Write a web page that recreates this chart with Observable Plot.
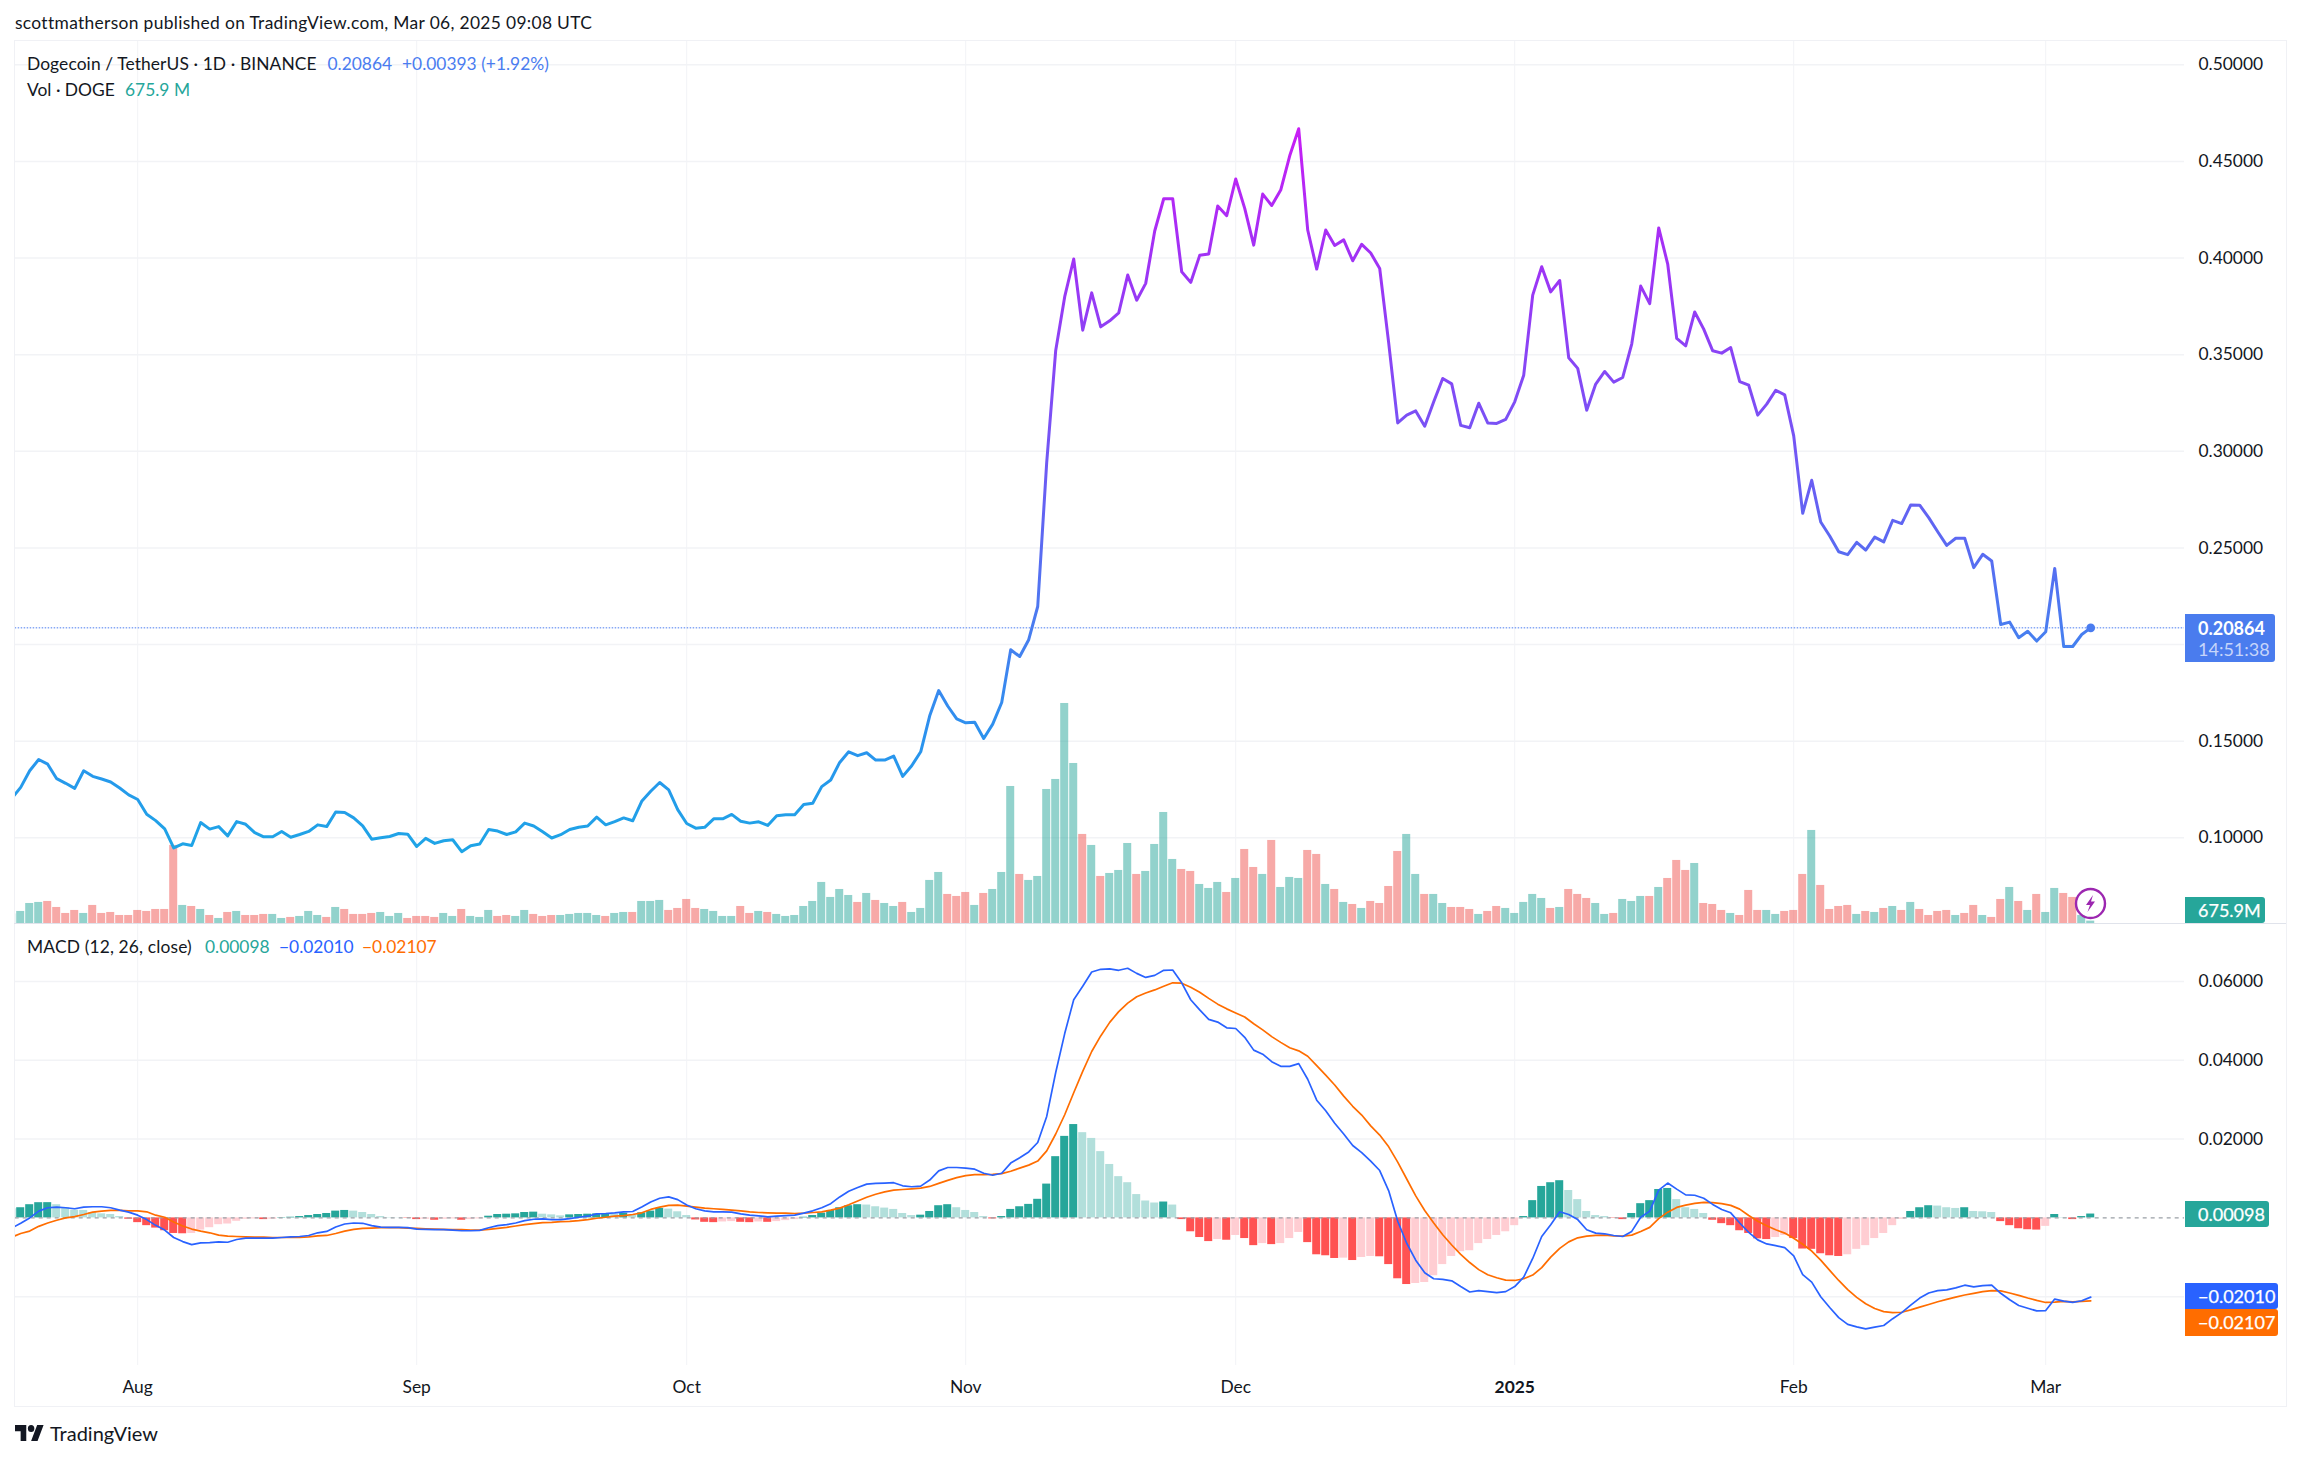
<!DOCTYPE html>
<html>
<head>
<meta charset="utf-8">
<script src="https://cdn.jsdelivr.net/npm/d3@7"></script>
<script src="https://cdn.jsdelivr.net/npm/@observablehq/plot@0.6"></script>
<style>
html,body{margin:0;padding:0;background:#fff;}
#stage{position:relative;width:2301px;height:1460px;overflow:hidden;font-family:Lato,sans-serif;color:#131722;}
.t{position:absolute;white-space:nowrap;font-size:17.4px;line-height:24px;height:24px;}
.box{position:absolute;left:2185px;color:#fff;border-radius:0 3px 3px 0;}
.box span{position:absolute;left:13px;white-space:nowrap;font-size:18px;line-height:20px;-webkit-text-stroke:0.25px #fff;}
</style>
</head>
<body>
<div id="stage"></div>
<script>
// Daily values from 18 Jul 2024 to 6 Mar 2025, grouped by month
const closes = [
 .1203,.1261,.1347,.1405,.1381,.1306,.1282,.1256,.1347,.1318,.1304,.1289,.1258,.1222,
 .1198,.1122,.1089,.1046,.0948,.0969,.0960,.1079,.1045,.1058,.1010,.1084,.1070,.1027,.1005,.1005,.1033,.1003,.1017,.1033,.1067,.1058,.1134,.1131,.1103,.1062,.0993,.1000,.1007,.1022,.1019,
 .0955,.0997,.0971,.0985,.0990,.0928,.0959,.0968,.1043,.1035,.1017,.1031,.1076,.1061,.1031,.0999,.1016,.1043,.1055,.1061,.1107,.1067,.1084,.1103,.1088,.1189,.1241,.1286,.1248,.1146,
 .1074,.1050,.1054,.1098,.1098,.1121,.1086,.1076,.1083,.1064,.1114,.1119,.1119,.1172,.1179,.1265,.1299,.1390,.1445,.1425,.1440,.1402,.1402,.1423,.1318,.1373,.1445,.1631,.1762,.1682,.1615,
 .1595,.1598,.1514,.1588,.1700,.1973,.1938,.2025,.2197,.2943,.3522,.3800,.3995,.3627,.3820,.3644,.3675,.3716,.3912,.3782,.3869,.4140,.4307,.4307,.3929,.3874,.4014,.4021,.4269,.4219,
 .4409,.4257,.4067,.4331,.4272,.4352,.4529,.4669,.4145,.3943,.4145,.4065,.4094,.3986,.4071,.4026,.3946,.3560,.3147,.3187,.3209,.3130,.3256,.3377,.3349,.3134,.3122,.3249,.3147,.3144,.3165,
 .3256,.3394,.3808,.3955,.3825,.3884,.3484,.3429,.3213,.3348,.3413,.3358,.3382,.3555,.3855,.3764,.4156,.3969,.3584,.3546,.3721,.3632,.3520,.3508,.3537,.3361,.3342,.3187,.3244,.3316,.3292,
 .3080,.2679,.2850,.2634,.2562,.2480,.2465,.2529,.2489,.2556,.2531,.2643,.2626,.2722,.2721,.2657,.2584,.2513,.2550,.2550,.2398,.2467,.2432,.2104,.2116,.2035,.2069,.2018,
 .2066,.2394,.1990,.1990,.2052,.20864
];
// Volume in millions of DOGE
const volumes = [
 2500,3130,5150,5410,5660,4140,2620,3380,2620,4650,2620,2870,2110,2110,
 3380,3130,3630,3630,19860,4650,4390,3630,2110,1350,2870,3130,2110,2110,2370,2370,1350,1610,1860,3130,2110,1610,4140,3630,2370,2370,2620,2870,1860,2620,1350,
 1860,1860,1610,2620,1860,3630,1860,1610,3380,1860,2110,1860,3380,2370,1860,2110,2110,2370,2620,2620,2110,1860,2620,2870,2870,5660,5660,5920,3380,3890,
 6170,3890,3630,3130,1860,1860,4390,2620,3130,2870,2370,1860,2110,4390,5660,10480,6680,8700,7180,5410,7690,5920,5150,4390,5410,2870,3890,10990,13010,7440,6930,
 7940,4650,7690,8700,13010,34810,12510,10990,12000,34050,36590,55850,40640,22650,19860,12000,12760,13520,20360,12510,13270,20110,28220,16310,13770,13270,9970,8960,10480,7940,
 11490,18840,14280,12510,21130,9210,11750,11490,18590,17580,9970,8700,5410,4900,3890,5660,5150,9460,18340,22650,12510,7440,7440,5150,4140,4140,3630,2370,3130,4390,3890,
 2620,5410,7440,6420,3890,4140,8700,7440,6420,5150,2370,2620,6170,5660,6930,6930,9210,11490,16060,13520,15290,5150,4900,3380,2620,2110,8450,3380,3380,2370,3130,
 3380,12510,23660,9720,3630,4390,4650,2370,3130,2870,3890,4390,3380,5410,3630,2110,3130,3380,2110,2620,4650,2110,1610,6170,9210,5660,3380,7440,
 2870,8960,7690,6680,2110,675.9
];
// g = rising day, r = falling day
const volumeSides = [
 "ggggrrrrgrrrrr",
 "rrrrrgrgrgrgrrrggrgggrgrrrrgggr",
 "rrrggrgggrrggrrrgggggrggrgggrr",
 "rrggggrrgrggg"+"ggggggrgrggrggggrr",
 "rgrgggrggggggrgrgggrggggrrgggr",
 "grrgrgggrrgrgrgrrrrggrggrrrgrrg",
 "ggggrgrrrggrgggrgrrrgrrrgrrrggr",
 "rrgrrrrgrgrgrgrrrrgrrgrrgrgr",
 "ggrrgg"
].join("");
// MACD, signal and histogram in units of 0.00001
const macdLine = [
 -258,-137,0,172,258,275,258,232,275,283,283,258,197,146,
 69,-43,-189,-309,-498,-601,-678,-635,-627,-609,-618,-549,-515,-515,-515,-515,-498,-481,-472,-446,-378,-343,-232,-155,-129,-137,-197,-232,-240,-240,-249,
 -283,-292,-300,-300,-309,-326,-326,-318,-249,-197,-172,-129,-69,-34,-26,-43,-43,-17,17,43,103,112,129,155,163,275,403,498,532,464,
 326,232,180,155,155,146,103,69,52,26,43,60,69,120,180,258,361,532,678,773,858,876,884,893,815,790,807,961,1193,1279,1279,
 1262,1236,1133,1082,1133,1391,1528,1674,1914,2575,3691,4678,5537,5880,6241,6309,6318,6284,6335,6206,6103,6155,6284,6292,5966,5537,5279,5039,4970,4824,
 4807,4584,4258,4155,3966,3846,3846,3914,3519,2987,2721,2404,2129,1837,1657,1442,1202,687,-86,-644,-1073,-1391,-1545,-1562,-1597,-1743,-1880,-1846,-1871,-1897,-1871,
 -1743,-1502,-1030,-472,-172,155,86,-43,-300,-386,-403,-446,-472,-343,17,172,704,884,730,584,575,498,343,215,129,-129,-369,-558,-661,-704,-755,
 -961,-1442,-1631,-2000,-2275,-2532,-2704,-2764,-2816,-2773,-2730,-2558,-2404,-2215,-2034,-1906,-1846,-1828,-1777,-1708,-1751,-1717,-1708,-1914,-2077,-2223,-2292,-2361,
 -2352,-2060,-2112,-2146,-2103,-2010
];
const signalLine = [
 -489,-395,-335,-215,-129,-60,0,34,86,146,172,189,189,180,
 180,155,69,17,-103,-206,-283,-335,-378,-438,-464,-472,-481,-489,-489,-498,-498,-498,-498,-481,-455,-446,-395,-335,-292,-266,-258,-249,-249,-249,-258,
 -266,-275,-283,-292,-300,-300,-309,-309,-292,-266,-240,-206,-172,-146,-120,-112,-94,-86,-69,-43,-9,17,43,60,86,129,215,275,318,326,
 300,275,249,232,215,197,180,155,137,129,120,120,112,120,137,155,197,249,335,429,524,601,661,704,721,738,755,798,876,953,1022,
 1073,1099,1099,1107,1125,1185,1262,1339,1442,1700,2129,2618,3176,3717,4223,4618,4962,5236,5451,5614,5708,5786,5880,5966,5957,5854,5726,5571,5425,5305,
 5202,5099,4927,4773,4601,4455,4318,4240,4103,3863,3622,3373,3090,2833,2610,2335,2103,1803,1416,987,558,189,-129,-429,-687,-927,-1133,-1313,-1442,-1519,-1579,
 -1588,-1545,-1451,-1262,-996,-773,-609,-506,-464,-446,-438,-455,-464,-438,-343,-240,-17,146,266,326,369,395,386,361,318,223,60,-86,-197,-300,-386,
 -515,-670,-841,-1073,-1331,-1588,-1820,-2017,-2180,-2301,-2378,-2404,-2395,-2335,-2266,-2197,-2129,-2069,-2009,-1957,-1914,-1871,-1846,-1854,-1906,-1966,-2034,-2094,
 -2146,-2137,-2120,-2129,-2120,-2107
];
const histogram = [
 231,258,335,386,387,335,258,197,189,137,103,86,34,-34,
 -120,-197,-258,-326,-395,-403,-395,-309,-249,-172,-155,-86,-34,-26,-43,-34,9,17,34,60,86,112,172,189,172,137,86,34,9,4,-9,
 -43,-34,-60,-34,-26,-60,-43,-26,43,86,94,103,137,146,94,77,52,77,86,94,103,112,94,120,69,129,172,240,223,155,
 60,-52,-112,-120,-103,-94,-112,-120,-103,-112,-94,-69,-43,17,60,120,189,258,309,335,326,283,249,215,112,60,69,163,309,335,258,
 189,137,34,-26,34,215,283,343,472,858,1554,2069,2369,2163,2017,1682,1356,1047,893,592,429,378,403,326,-43,-352,-498,-601,-549,-567,
 -446,-524,-704,-652,-678,-652,-524,-369,-627,-936,-961,-1030,-1021,-1082,-1004,-979,-987,-1185,-1545,-1691,-1665,-1640,-1468,-1185,-979,-858,-833,-652,-549,-446,-352,
 -197,34,438,798,893,944,695,464,163,60,34,-9,-43,112,361,438,721,747,464,258,215,112,-60,-146,-197,-326,-395,-532,-549,-498,-446,
 -524,-790,-798,-910,-961,-979,-936,-798,-704,-524,-395,-197,-34,163,258,309,300,258,240,258,163,155,137,-94,-197,-275,-300,-309,
 -215,86,9,-43,34,98
];
const priceGrid = [0.10,0.15,0.20,0.25,0.30,0.35,0.40,0.45,0.50];
const priceTicks = [0.10,0.15,0.25,0.30,0.35,0.40,0.45,0.50];
const macdGrid = [-2000,2000,4000,6000];
const macdTicks = [2000,4000,6000];
const monthDates = ["2024-08-01","2024-09-01","2024-10-01","2024-11-01","2024-12-01","2025-01-01","2025-02-01","2025-03-01"].map(d=>new Date(d));
const monthLabels = ["Aug","Sep","Oct","Nov","Dec","2025","Feb","Mar"];
const firstDay = new Date("2024-07-18");
const lastPrice = 0.20864;

[closes,volumes,macdLine,signalLine,histogram].forEach((a,i)=>{ if(a.length!==232) throw new Error("len "+i+" "+a.length); });
if(volumeSides.length!==232) throw new Error("sides "+volumeSides.length);

const DAY = 864e5;
const rows = closes.map((close,i)=>{
  const date = d3.utcDay.offset(firstDay,i);
  const prev = i ? histogram[i-1] : 0, h = histogram[i];
  return {date, close, vol:volumes[i], side:volumeSides[i], macd:macdLine[i], signal:signalLine[i], hist:h,
    histColor: h>=0 ? (h>=prev?"#26a69a":"#b2dfdb") : (h<prev?"#ff5252":"#ffcdd2"),
    x1:new Date(+date-0.445*DAY), x2:new Date(+date+0.445*DAY)};
});
const months = monthDates.map((date,i)=>({date,label:monthLabels[i]}));
const last = rows[rows.length-1];

const xScale = {type:"utc",domain:[new Date("2024-07-18T09:20Z"),new Date("2025-03-16T10:05Z")],axis:null};
const GRID = "#f2f3f6";
const common = {width:2301,height:1460,marginLeft:14.7,marginRight:117,x:xScale,style:{background:"transparent",color:"#131722",fontFamily:"Lato,sans-serif"}};
const priceFrame = {...common,marginTop:41,marginBottom:536.7,y:{domain:[0.0555,0.51206]}};
const axisOpts = {anchor:"right",tickSize:0,tickPadding:14,fontSize:17.4,label:null};

const stops = [[0.0928,"#1ea5e6"],[0.15,"#2a93ee"],[0.21,"#4a7cf0"],[0.26,"#5e66f2"],[0.32,"#7c4ff5"],[0.40,"#a032f5"],[0.4669,"#c81ef5"]];
const gradientMark = (index,{y})=>{
  const g = d3.create("svg:linearGradient").attr("id","priceGradient").attr("gradientUnits","userSpaceOnUse")
    .attr("x1",0).attr("x2",0).attr("y1",y(stops[0][0])).attr("y2",y(stops[stops.length-1][0]));
  const a = stops[0][0], b = stops[stops.length-1][0];
  stops.forEach(([v,c])=>g.append("stop").attr("offset",(v-a)/(b-a)).attr("stop-color",c));
  return d3.create("svg:defs").call(s=>s.node().appendChild(g.node())).node();
};

const gridPlot = Plot.plot({...priceFrame,marks:[
  Plot.ruleY(priceGrid,{stroke:GRID,strokeWidth:1.5}),
  Plot.ruleX(monthDates,{stroke:GRID,strokeWidth:1}),
  Plot.axisY({...axisOpts,ticks:priceTicks,tickFormat:d=>d.toFixed(5)})
]});
const volPlot = Plot.plot({...common,marginTop:41,marginBottom:536.7,y:{domain:[0,223663],axis:null},marks:[
  Plot.rect(rows,{x1:"x1",x2:"x2",y1:0,y2:"vol",fill:d=>d.side==="g"?"#26a69a":"#ef5350",fillOpacity:0.5,clip:true})
]});
const linePlot = Plot.plot({...priceFrame,y:{...priceFrame.y,axis:null},marks:[
  gradientMark,
  Plot.ruleY([lastPrice],{stroke:"#4a7cf0",strokeWidth:1,strokeDasharray:"1.5 1.5"}),
  Plot.line(rows,{x:"date",y:"close",stroke:"url(#priceGradient)",strokeWidth:3,strokeLinejoin:"round",clip:true}),
  Plot.dot([last],{x:"date",y:"close",r:4.4,fill:"#4a7cf0",stroke:null})
]});
const macdPlot = Plot.plot({...common,marginTop:923.3,marginBottom:95,y:{domain:[-3746,7464]},marks:[
  Plot.ruleY(macdGrid,{stroke:GRID,strokeWidth:1.5}),
  Plot.ruleX(monthDates,{stroke:GRID,strokeWidth:1}),
  Plot.rect(rows,{x1:"x1",x2:"x2",y1:0,y2:"hist",fill:"histColor",clip:true}),
  Plot.ruleY([0],{stroke:"#9aa0a6",strokeWidth:1.2,strokeDasharray:"4 4"}),
  Plot.line(rows,{x:"date",y:"signal",stroke:"#ff6d00",strokeWidth:1.7,clip:true}),
  Plot.line(rows,{x:"date",y:"macd",stroke:"#2962ff",strokeWidth:1.7,clip:true}),
  Plot.axisY({...axisOpts,ticks:macdTicks,tickFormat:d=>(d/1e5).toFixed(5)}),
  Plot.text(months.filter(d=>d.label!=="2025"),{x:"date",text:"label",frameAnchor:"bottom",dy:27,fontSize:17.4,fill:"#131722"}),
  Plot.text(months.filter(d=>d.label==="2025"),{x:"date",text:"label",frameAnchor:"bottom",dy:27,fontSize:17.4,fontWeight:"bold",fill:"#131722"})
]});

const stage = document.getElementById("stage");
[gridPlot,volPlot,linePlot,macdPlot].forEach(p=>{p.style.position="absolute";p.style.left="0";p.style.top="0";stage.appendChild(p);});

const frag = (html)=>{const d=document.createElement("div");d.innerHTML=html;while(d.firstChild)stage.appendChild(d.firstChild);};
const text = (x,cy,s,color,extra="")=>`<div class="t" style="left:${x}px;top:${cy-12}px;color:${color||"#131722"};${extra}">${s}</div>`;
const BLUE="#4a7cf0", TEAL="#26a69a";
frag(`
<div style="position:absolute;left:14px;top:40px;width:2271px;height:1365px;border:1.5px solid #f0f1f5;box-sizing:content-box;pointer-events:none"></div>
<div style="position:absolute;left:14px;top:922.6px;width:2272px;height:1.5px;background:#e0e3eb"></div>
`+text(15,23,"scottmatherson published on TradingView.com, Mar 06, 2025 09:08 UTC","#131722","letter-spacing:0.33px")
 +text(27,64,"Dogecoin / TetherUS · 1D · BINANCE","#131722","letter-spacing:0.1px")
 +text(327.5,64,"0.20864",BLUE)
 +text(402,64,"+0.00393 (+1.92%)",BLUE)
 +text(27,90,"Vol · DOGE")
 +text(125,90,"675.9 M",TEAL)
 +text(27,947,"MACD (12, 26, close)","#131722","letter-spacing:0.15px")
 +text(205,947,"0.00098",TEAL)
 +text(279,947,"−0.02010","#2962ff")
 +text(362,947,"−0.02107","#ff6d00")
+`
<div class="box" style="top:614px;width:90px;height:48px;background:#4a7cee"><span style="top:4px;font-weight:bold;-webkit-text-stroke:0">0.20864</span><span style="top:25px;color:#c6d5fa;-webkit-text-stroke:0">14:51:38</span></div>
<div class="box" style="top:897px;width:80px;height:26px;background:#26a69a"><span style="top:3px">675.9M</span></div>
<div class="box" style="top:1200.5px;width:84px;height:26.5px;background:#26a69a"><span style="top:3px">0.00098</span></div>
<div class="box" style="top:1283px;width:93px;height:26px;background:#2962ff"><span style="top:3px">−0.02010</span></div>
<div class="box" style="top:1309px;width:93px;height:26.5px;background:#ff6d00"><span style="top:3px">−0.02107</span></div>
<svg style="position:absolute;left:2074px;top:887px" width="33" height="33" viewBox="0 0 33 33">
 <circle cx="16.5" cy="16.5" r="14.5" fill="#ffffff" fill-opacity="0.55" stroke="#9c27b0" stroke-width="2.4"/>
 <path d="M19 8 L12 18 H16 L13.5 25 L21 14.5 H17 Z" fill="#9c27b0"/>
</svg>
<svg style="position:absolute;left:15px;top:1425px" width="29" height="16" viewBox="0 0 36 18" preserveAspectRatio="none"><path d="M14 18H7V7H0V0h14v18zM28 18h-8L27.5 0h8L28 18z" fill="#131722"/><circle cx="20" cy="4" r="4" fill="#131722"/></svg>
<div class="t" style="left:50px;top:1421px;font-size:20px;">TradingView</div>
`);
</script>
</body>
</html>
